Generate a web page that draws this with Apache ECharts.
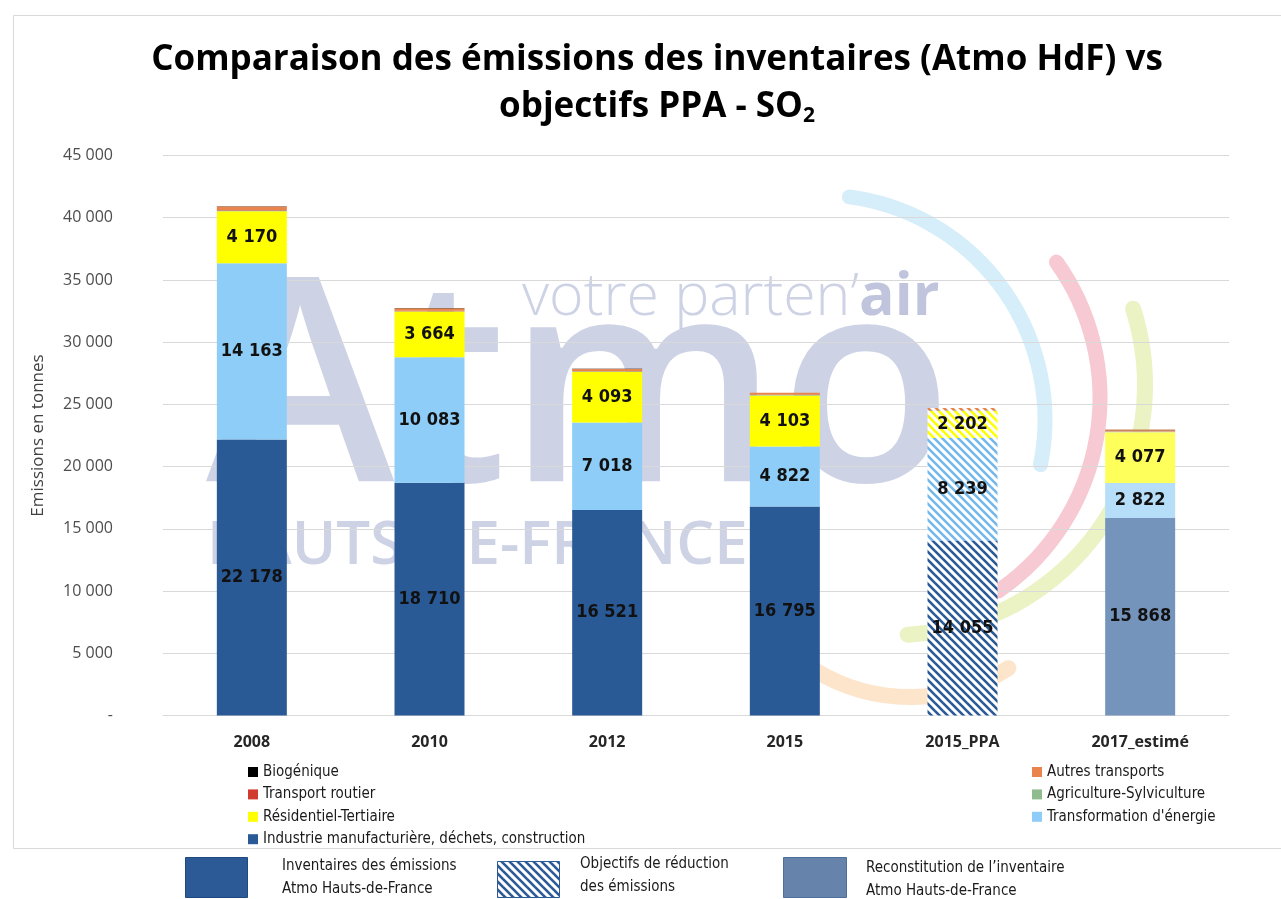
<!DOCTYPE html>
<html>
<head>
<meta charset="utf-8">
<script src="https://cdn.jsdelivr.net/npm/echarts@6/dist/echarts.min.js"></script>
<style>
  html, body { margin: 0; padding: 0; background: #fff; }
  #chart { width: 1281px; height: 899px; }
</style>
</head>
<body>
<div id="chart"></div>
<script>
// Data
const categories = ['2008', '2010', '2012', '2015', '2015_PPA', '2017_estimé'];
const industrie = [22178, 18710, 16521, 16795, 14055, 15868];
const transformation = [14163, 10083, 7018, 4822, 8239, 2822];
const residentiel = [4170, 3664, 4093, 4103, 2202, 4077];
const agriculture = [60, 30, 25, 25, 30, 25];
const routier = [50, 40, 30, 30, 30, 30];
const autres = [280, 200, 160, 160, 150, 160];
const biogenique = [20, 10, 10, 10, 10, 10];

const PPA_INDEX = 4;
const ESTIME_INDEX = 5;
const LABEL_FONT = "'Liberation Sans Narrow', 'DejaVu Sans Condensed', 'Open Sans', sans-serif";

// diagonal "\" stripes on white, used for the PPA objectives
function stripes(color) {
  const c = document.createElement('canvas');
  c.width = 8;
  c.height = 8;
  const ctx = c.getContext('2d');
  ctx.fillStyle = '#fff';
  ctx.fillRect(0, 0, 8, 8);
  ctx.strokeStyle = color;
  ctx.lineWidth = 2.6;
  for (const k of [-8, 0, 8]) {
    ctx.beginPath();
    ctx.moveTo(k - 1, -1);
    ctx.lineTo(k + 9, 9);
    ctx.stroke();
  }
  return c;
}

function fmt(v) {
  return String(v).replace(/\B(?=(\d{3})+(?!\d))/g, ' ');
}

function items(values, color, paleColor, stripeColor) {
  return values.map((v, i) => {
    if (i === PPA_INDEX) {
      return { value: v, itemStyle: { color: { image: stripes(stripeColor || color), repeat: 'repeat' } } };
    }
    if (i === ESTIME_INDEX) {
      return { value: v, itemStyle: { color: paleColor } };
    }
    return v;
  });
}

function serie(name, values, color, paleColor, withLabel, stripeColor) {
  return {
    name: name,
    type: 'bar',
    stack: 'total',
    barWidth: 70,
    itemStyle: { color: color },
    data: items(values, color, paleColor, stripeColor),
    label: withLabel ? {
      show: true,
      position: 'inside',
      color: '#111',
      fontWeight: 'bold',
      fontSize: 18,
      fontFamily: LABEL_FONT,
      formatter: p => fmt(p.value)
    } : { show: false }
  };
}

const chart = echarts.init(document.getElementById('chart'));

const legendText = { fontSize: 15, color: '#1a1a1a', fontFamily: LABEL_FONT, lineHeight: 16 };
const wmColor = 'rgba(160,168,205,0.52)';

const options = {
  backgroundColor: '#fff',
  animation: false,
  title: {
    left: 652,
    textAlign: 'center',
    top: 32,
    text: 'Comparaison des émissions des inventaires (Atmo HdF) vs\nobjectifs PPA - SO{sub|2}',
    textStyle: {
      fontFamily: "'Open Sans', sans-serif",
      fontWeight: 'bold',
      fontSize: 35,
      color: '#000',
      lineHeight: 47,
      rich: {
        sub: { fontFamily: "'Open Sans', sans-serif", fontWeight: 'bold', fontSize: 21, color: '#000', padding: [17, 0, 0, 0] }
      }
    }
  },
  grid: { left: 163, right: 52, top: 155.5, bottom: 183.5 },
  xAxis: {
    type: 'category',
    data: categories,
    axisLine: { show: true, lineStyle: { color: '#d9d9d9' } },
    axisTick: { show: false },
    axisLabel: { fontWeight: 'bold', fontSize: 16, color: '#262626', margin: 19, fontFamily: "'Open Sans', sans-serif" }
  },
  yAxis: {
    type: 'value',
    min: 0,
    max: 45000,
    interval: 5000,
    name: 'Emissions en tonnes',
    nameLocation: 'middle',
    nameGap: 116,
    nameTextStyle: { fontSize: 17, color: '#404040', fontFamily: "'Open Sans', sans-serif" },
    axisLine: { show: false },
    axisTick: { show: false },
    axisLabel: {
      fontSize: 16,
      color: '#4d4d4d',
      margin: 50,
      fontFamily: "'Open Sans', sans-serif",
      formatter: v => v === 0 ? '-' : fmt(v)
    },
    splitLine: { lineStyle: { color: '#d9d9d9', width: 1.2 } }
  },
  legend: [
    {
      orient: 'vertical',
      left: 243,
      top: 759,
      itemWidth: 10,
      itemHeight: 10,
      itemGap: 6.4,
      icon: 'rect',
      textStyle: legendText,
      data: ['Biogénique', 'Transport routier', 'Résidentiel-Tertiaire', 'Industrie manufacturière, déchets, construction']
    },
    {
      orient: 'vertical',
      left: 1027,
      top: 759,
      itemWidth: 10,
      itemHeight: 10,
      itemGap: 6.4,
      icon: 'rect',
      textStyle: legendText,
      data: ['Autres transports', 'Agriculture-Sylviculture', "Transformation d'énergie"]
    }
  ],
  graphic: [
    // chart frame
    { type: 'rect', z: -20, shape: { x: 13.5, y: 15.5, width: 1280, height: 833 }, style: { fill: 'none', stroke: '#d9d9d9', lineWidth: 1 } },
    // watermark
    { type: 'arc', z: -10, shape: { cx: 820, cy: 420, r: 225, startAngle: -1.44, endAngle: 0.2, clockwise: true }, style: { fill: 'none', stroke: '#d6eef9', lineWidth: 15, lineCap: 'round' } },
    { type: 'arc', z: -10, shape: { cx: 866, cy: 398, r: 234, startAngle: -0.62, endAngle: 0.97, clockwise: true }, style: { fill: 'none', stroke: '#f7c9d3', lineWidth: 15, lineCap: 'round' } },
    { type: 'arc', z: -10, shape: { cx: 895, cy: 385, r: 250, startAngle: -0.31, endAngle: 1.52, clockwise: true }, style: { fill: 'none', stroke: '#ebf2c4', lineWidth: 16, lineCap: 'round' } },
    { type: 'arc', z: -10, shape: { cx: 910, cy: 515, r: 182, startAngle: 1.0, endAngle: 2.12, clockwise: true }, style: { fill: 'none', stroke: '#fde5cc', lineWidth: 16, lineCap: 'round' } },
    { type: 'text', z: -10, style: { x: 206, y: 400, text: 'Atmo', fill: wmColor, font: "600 285px 'Open Sans', sans-serif", textAlign: 'left', textVerticalAlign: 'middle' } },
    { type: 'text', z: -10, style: { x: 522, y: 298, text: 'votre parten’{b|air}', fill: wmColor, font: "300 59px 'Open Sans', sans-serif", textAlign: 'left', textVerticalAlign: 'middle', rich: { b: { fill: 'rgba(150,158,198,0.6)', font: "bold 59px 'Open Sans', sans-serif" } } } },
    { type: 'text', z: -10, style: { x: 207, y: 547, text: 'HAUTS-DE-FRANCE', fill: wmColor, font: "600 60px 'Open Sans', sans-serif", textAlign: 'left', textVerticalAlign: 'middle' } },
    // lower key
    { type: 'rect', shape: { x: 185.5, y: 857.5, width: 62, height: 40 }, style: { fill: '#2c5a96', stroke: '#1f4a80', lineWidth: 1 } },
    { type: 'text', style: { x: 282, y: 866, text: 'Inventaires des émissions', fill: '#1a1a1a', font: "15px " + LABEL_FONT, textVerticalAlign: 'middle' } },
    { type: 'text', style: { x: 282, y: 889, text: 'Atmo Hauts-de-France', fill: '#1a1a1a', font: "15px " + LABEL_FONT, textVerticalAlign: 'middle' } },
    { type: 'rect', shape: { x: 497.5, y: 861.5, width: 62, height: 36 }, style: { fill: { image: stripes('#2c5a96'), repeat: 'repeat' }, stroke: '#2c5a96', lineWidth: 1 } },
    { type: 'text', style: { x: 580, y: 864, text: 'Objectifs de réduction', fill: '#1a1a1a', font: "15px " + LABEL_FONT, textVerticalAlign: 'middle' } },
    { type: 'text', style: { x: 580, y: 887, text: 'des émissions', fill: '#1a1a1a', font: "15px " + LABEL_FONT, textVerticalAlign: 'middle' } },
    { type: 'rect', shape: { x: 783.5, y: 857.5, width: 63, height: 40 }, style: { fill: '#6683ab', stroke: '#4e6e9a', lineWidth: 1 } },
    { type: 'text', style: { x: 866, y: 868, text: 'Reconstitution de l’inventaire', fill: '#1a1a1a', font: "15px " + LABEL_FONT, textVerticalAlign: 'middle' } },
    { type: 'text', style: { x: 866, y: 891, text: 'Atmo Hauts-de-France', fill: '#1a1a1a', font: "15px " + LABEL_FONT, textVerticalAlign: 'middle' } }
  ],
  series: [
    serie('Industrie manufacturière, déchets, construction', industrie, '#2a5a96', '#7494bb', true),
    serie("Transformation d'énergie", transformation, '#8ecdf8', '#b6def9', true, '#74b8ea'),
    serie('Résidentiel-Tertiaire', residentiel, '#ffff00', '#ffff5c', true),
    serie('Agriculture-Sylviculture', agriculture, '#8fbc8f', '#b8d6b8', false),
    serie('Transport routier', routier, '#d03a2f', '#e08880', false),
    serie('Autres transports', autres, '#e8844c', '#c9855a', false),
    serie('Biogénique', biogenique, '#000000', '#555555', false)
  ]
};

chart.setOption(options);
</script>
</body>
</html>
